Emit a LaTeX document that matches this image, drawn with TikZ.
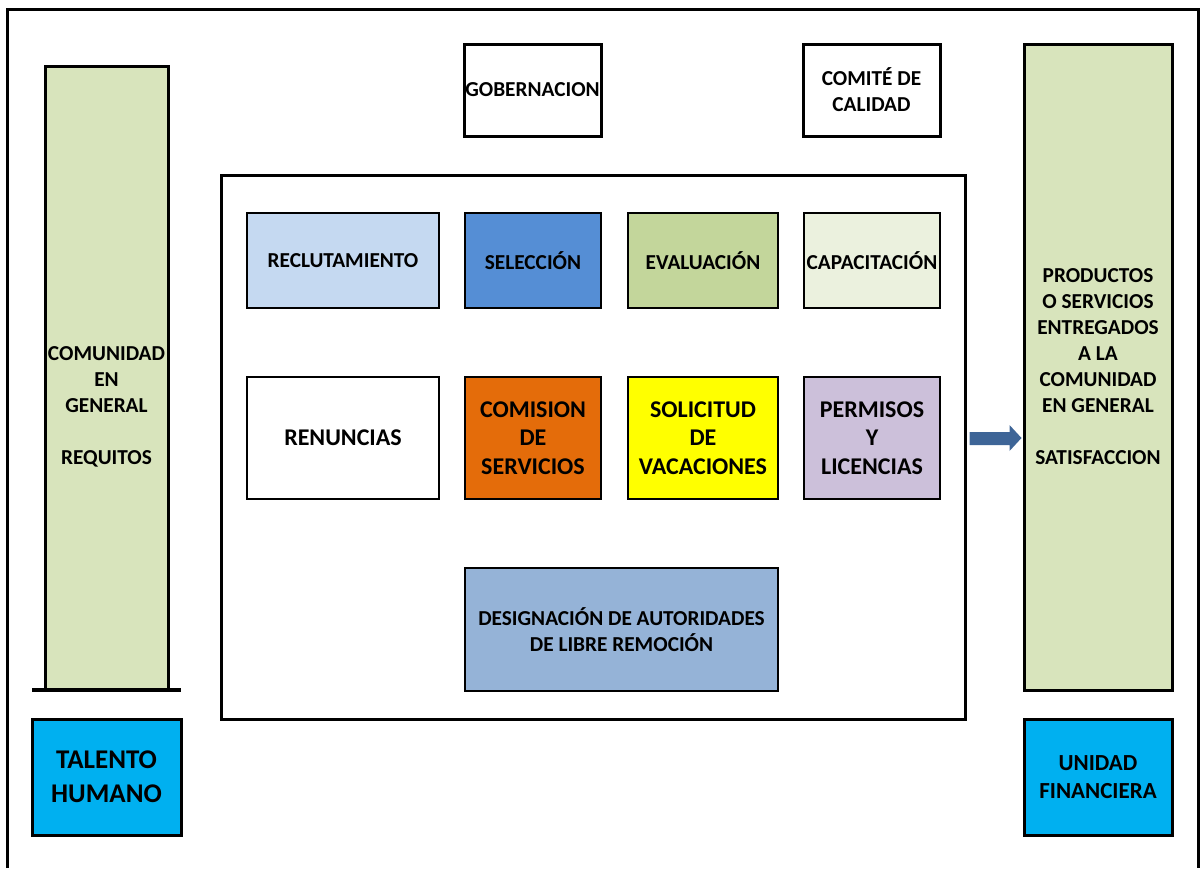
\documentclass[tikz,border=0pt]{standalone}
\usepackage{fontspec}
\setmainfont{Carlito}
\begin{document}
\begin{tikzpicture}[x=1pt,y=-1pt,
  box/.style={draw=black,line width=2pt,inner sep=0pt,align=center,
    font=\bfseries\fontsize{21.3}{26}\selectfont},
  heavy/.style={box,line width=3pt},
  bigtext/.style={font=\bfseries\fontsize{24}{28.5}\selectfont},
  txt/.style={inner sep=0pt,align=center,font=\bfseries\fontsize{21.3}{26}\selectfont},
  sz/.style n args={2}{minimum width=#1pt,minimum height=#2pt}]
\definecolor{colgreen}{HTML}{D8E4BC}
\definecolor{cyanbox}{HTML}{00B0F0}
\definecolor{reclut}{HTML}{C5D9F1}
\definecolor{selec}{HTML}{558ED5}
\definecolor{evalc}{HTML}{C3D69B}
\definecolor{capac}{HTML}{EBF1DE}
\definecolor{comis}{HTML}{E46C0A}
\definecolor{solic}{HTML}{FFFF00}
\definecolor{perm}{HTML}{CCC0DA}
\definecolor{desig}{HTML}{95B3D7}
\definecolor{arrowblue}{HTML}{3E6597}

\useasboundingbox (0,0) rectangle (1200,868);

% open outer frame
\draw[line width=3pt] (7.5,868) -- (7.5,9) -- (1198,9) -- (1198,868);

% side columns
\node[heavy,fill=colgreen,sz={123}{623}] (lcol) at (106.5,377.5) {};
\node[txt] (ltext) at (106.5,407) {COMUNIDAD\\EN\\GENERAL\\[26pt]REQUITOS};
\draw[line width=3.5pt] (32,690) -- (181,690);
\node[heavy,fill=colgreen,sz={148}{646}] (rcol) at (1098,367)
  {PRODUCTOS\\O SERVICIOS\\ENTREGADOS\\A LA\\COMUNIDAD\\EN GENERAL\\[26pt]SATISFACCION};

% bottom units
\node[heavy,fill=cyanbox,sz={149}{116},font=\bfseries\fontsize{27}{34}\selectfont] (th) at (106.5,777) {TALENTO\\HUMANO};
\node[heavy,fill=cyanbox,sz={148}{116},font=\bfseries\fontsize{23}{28}\selectfont] (uf) at (1098,777) {UNIDAD\\FINANCIERA};

% top boxes
\node[heavy,sz={137}{92}] (gob) at (532.5,90) {GOBERNACION};
\node[heavy,sz={137}{92}] (com) at (871.5,90) {COMITÉ DE\\CALIDAD};

% central frame
\node[heavy,sz={744}{544}] (frame) at (593,447) {};

% first row
\node[box,fill=reclut,sz={192}{95}] (rec) at (343,260.5) {RECLUTAMIENTO};
\node[box,fill=selec,sz={136}{95}] (sel) at (533,260.5) {SELECCIÓN};
\node[box,fill=evalc,sz={150}{95}] (eva) at (703,260.5) {EVALUACIÓN};
\node[box,fill=capac,sz={136}{95}] (cap) at (872,260.5) {CAPACITACIÓN};

% second row
\node[box,bigtext,fill=white,sz={192}{122}] (ren) at (343,438) {RENUNCIAS};
\node[box,bigtext,fill=comis,sz={136}{122}] (cs) at (533,438) {COMISION\\DE\\SERVICIOS};
\node[box,bigtext,fill=solic,sz={150}{122}] (vac) at (703,438) {SOLICITUD\\DE\\VACACIONES};
\node[box,bigtext,fill=perm,sz={136}{122}] (per) at (872,438) {PERMISOS\\Y\\LICENCIAS};

% third row
\node[box,fill=desig,sz={313}{123}] (des) at (621.5,629.5) {DESIGNACIÓN DE AUTORIDADES\\DE LIBRE REMOCIÓN};

% block arrow towards the output column
\coordinate (tip) at (rcol.west |- per.center);
\fill[arrowblue] (tip) ++(-1,0) -- ++(-12,-13) -- ++(0,7) -- ++(-40,0) -- ++(0,13)
  -- ++(40,0) -- ++(0,6) -- cycle;
\end{tikzpicture}
\end{document}
